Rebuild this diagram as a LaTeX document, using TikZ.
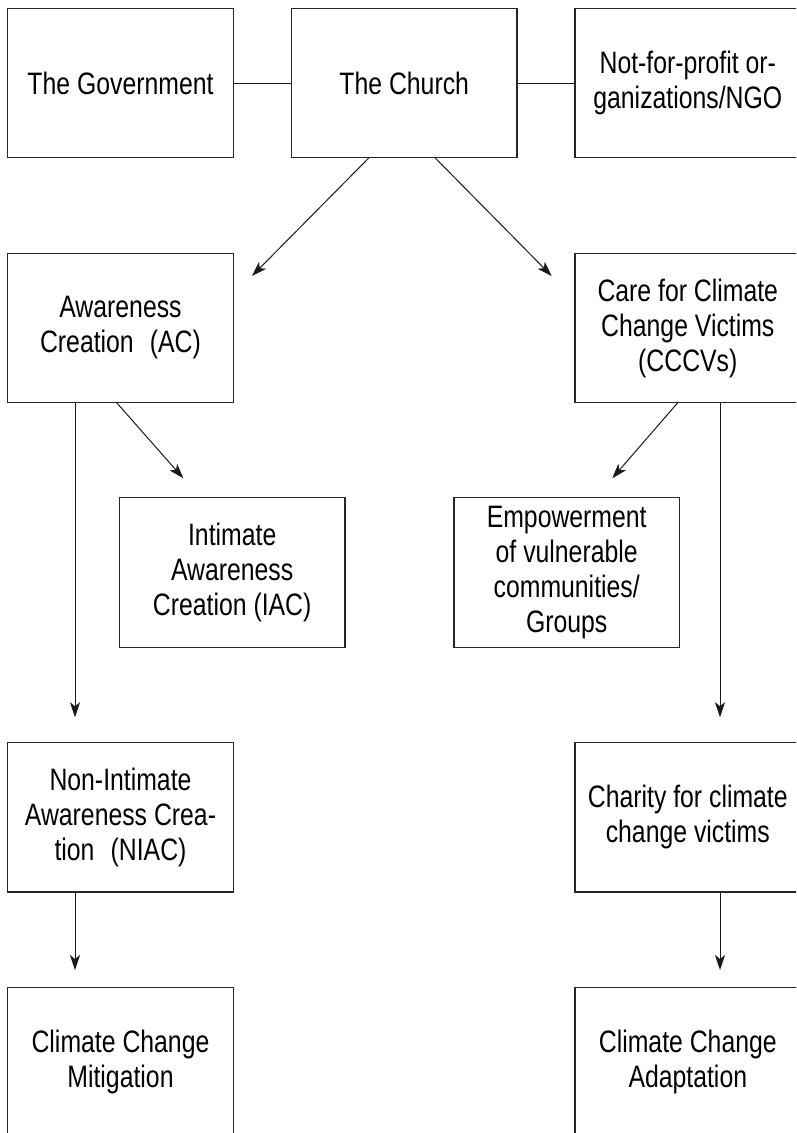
\documentclass[tikz,border=0pt]{standalone}
\usepackage{fontspec}
\setmainfont[FakeStretch=0.80]{Liberation Sans}
\usetikzlibrary{arrows.meta}
\tikzset{
  box/.style={draw=black!85, line width=1.3pt, rectangle, inner sep=0pt, outer sep=0pt,
    minimum width=225.5pt, minimum height=149.5pt, align=center,
    font=\fontsize{31}{35}\selectfont},
  conn/.style={draw=black!90, line width=1pt},
  arr/.style={conn, -{Stealth[length=15pt,width=10pt,inset=4pt]}}
}
\begin{document}
\begin{tikzpicture}[x=1pt,y=-1pt]
\useasboundingbox (0,0) rectangle (796,1133);
\clip (0,0) rectangle (796,1133);
\fill[white] (0,0) rectangle (796,1133);
% boxes
\node[box] (gov) at (120.5,83) {The Government};
\node[box] (church) at (404.2,83) {The Church};
\node[box] (ngo) at (687.8,83) {Not-for-profit or-\\ganizations/NGO};
\node[box] (ac) at (120.5,328) {Awareness\\Creation\hspace{0.3em} (AC)};
\node[box] (cccv) at (687.8,328) {Care for Climate\\Change Victims\\(CCCVs)};
\node[box] (iac) at (232.2,572.5) {Intimate\\Awareness\\Creation (IAC)};
\node[box] (emp) at (566.7,572.5) {Empowerment\\of vulnerable\\communities/\\Groups};
\node[box] (niac) at (120.5,817.3) {Non-Intimate\\Awareness Crea-\\tion\hspace{0.3em} (NIAC)};
\node[box] (charity) at (687.8,817.3) {Charity for climate\\change victims};
\node[box] (mit) at (120.5,1062) {Climate Change\\Mitigation};
\node[box] (adapt) at (687.8,1062) {Climate Change\\Adaptation};
% free arrow ends
\coordinate (t1) at (252,276);
\coordinate (t2) at (551.7,276);
\coordinate (t3) at (183.3,478.3);
\coordinate (t4) at (612.3,478.3);
\coordinate (t5) at (75,717.3);
\coordinate (t6) at (720,717.3);
\coordinate (t7) at (75,970);
\coordinate (t8) at (720,970);
% connectors
\draw[conn] (gov.east) -- (church.west);
\draw[conn] (church.east) -- (ngo.west);
\draw[arr] ([xshift=-35.2pt]church.south) -- (t1);
\draw[arr] ([xshift=30.8pt]church.south) -- (t2);
\draw[arr] ([xshift=-3.8pt]ac.south) -- (t3);
\draw[arr] ([xshift=-45.5pt]ac.south) -- (t5);
\draw[arr] ([xshift=-10.1pt]cccv.south) -- (t4);
\draw[arr] ([xshift=32.2pt]cccv.south) -- (t6);
\draw[arr] ([xshift=-45.5pt]niac.south) -- (t7);
\draw[arr] ([xshift=32.2pt]charity.south) -- (t8);
\end{tikzpicture}
\end{document}
